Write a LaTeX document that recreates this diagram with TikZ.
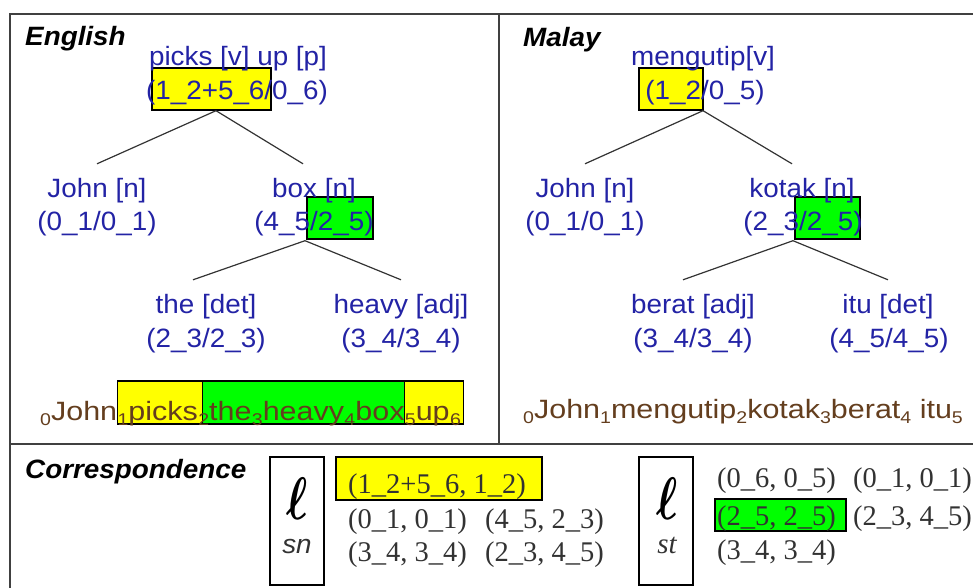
\documentclass[tikz,border=0pt]{standalone}
\usepackage{graphicx}
\usepackage{fontspec}
\setmainfont[FakeStretch=1.05]{Liberation Sans}
\newfontfamily\sentfont[FakeStretch=1.15]{Liberation Sans}
\newfontfamily\serfont{Liberation Serif}
\usetikzlibrary{backgrounds}
\definecolor{treeblue}{RGB}{35,35,165}
\definecolor{sentbrown}{RGB}{100,62,30}
\definecolor{corrgray}{RGB}{50,50,50}
\definecolor{hlyellow}{RGB}{255,255,0}
\definecolor{hlgreen}{RGB}{0,255,0}
\newcommand\sbs[1]{\raisebox{-5pt}{\fontsize{17}{17}\selectfont #1}}
\tikzset{
  frame/.style={draw=black!75, line width=1.8pt},
  conn/.style={draw=black!80, line width=1.2pt},
  hl/.style={draw=black, line width=1.1pt},
  ttl/.style={anchor=base west, inner sep=0pt, text=black, font=\fontsize{26.5}{30}\selectfont\bfseries\itshape},
  lbl/.style={anchor=base, inner xsep=0pt, inner ysep=14pt, text height=19pt, text depth=6pt, text=treeblue, font=\fontsize{26.5}{30}\selectfont},
  spn/.style={lbl, inner ysep=4.5pt},
  snt/.style={anchor=base west, inner sep=0pt, text=sentbrown, font=\sentfont\fontsize{26.5}{30}\selectfont},
  corr/.style={anchor=base west, inner sep=0pt, text=corrgray, font=\serfont\fontsize{28.5}{30}\selectfont},
  ellbox/.style={draw=black, line width=1.2pt},
}
\begin{document}
\begin{tikzpicture}[x=1pt,y=-1pt]
\useasboundingbox (0,0) rectangle (973,588);
\clip (0,0) rectangle (973,588);
% frame
\draw[frame] (10,14) rectangle (1000,620);
\draw[frame] (499,14) -- (499,444);
\draw[frame] (10,444) -- (1000,444);
% titles
\node[ttl] (tEn) at (25,46) {English};
\node[ttl] (tMs) at (523,47) {Malay};
\node[ttl] (tCo) at (25,478) {Correspondence};
% English tree
\node[lbl] (el1) at (238,66) {picks [v] up [p]};
\node[spn] (es) at (237,100) {(1\_2+5\_6/0\_6)};
\node[lbl] (ej1) at (97,197) {John [n]};
\node[spn] (ej2) at (97,230) {(0\_1/0\_1)};
\node[lbl] (eb1) at (314,197) {box [n]};
\node[spn] (eb2) at (314,230) {(4\_5/2\_5)};
\node[lbl] (et1) at (206,313) {the [det]};
\node[spn] (et2) at (206,347) {(2\_3/2\_3)};
\node[lbl] (eh1) at (401,313) {heavy [adj]};
\node[spn] (eh2) at (401,347) {(3\_4/3\_4)};
\draw[conn] ([xshift=-21pt]es.south) -- (ej1.north);
\draw[conn] ([xshift=-21pt]es.south) -- ([xshift=-11pt]eb1.north);
\draw[conn] ([xshift=-9pt]eb2.south) -- ([xshift=-13pt]et1.north);
\draw[conn] ([xshift=-9pt]eb2.south) -- (eh1.north);
% Malay tree
\node[lbl] (ml1) at (703,66) {mengutip[v]};
\node[spn] (ms) at (705,100) {(1\_2/0\_5)};
\node[lbl] (mj1) at (585,197) {John [n]};
\node[spn] (mj2) at (585,230) {(0\_1/0\_1)};
\node[lbl] (mk1) at (802,197) {kotak [n]};
\node[spn] (mk2) at (803,230) {(2\_3/2\_5)};
\node[lbl] (mb1) at (693,313) {berat [adj]};
\node[spn] (mb2) at (693,347) {(3\_4/3\_4)};
\node[lbl] (mi1) at (888,313) {itu [det]};
\node[spn] (mi2) at (889,347) {(4\_5/4\_5)};
\draw[conn] ([xshift=-2pt]ms.south) -- (mj1.north);
\draw[conn] ([xshift=-2pt]ms.south) -- ([xshift=-10pt]mk1.north);
\draw[conn] ([xshift=-10pt]mk2.south) -- ([xshift=-10pt]mb1.north);
\draw[conn] ([xshift=-10pt]mk2.south) -- (mi1.north);
% sentences
\node[snt] (s0) at (40,420) {\sbs{0}John};
\node[snt] (s1) at (s0.base east) {\sbs{1}picks};
\node[snt] (s2) at (s1.base east) {\sbs{2}the};
\node[snt] (s3) at (s2.base east) {\sbs{3}heavy};
\node[snt] (s4) at (s3.base east) {\sbs{4}box};
\node[snt] (s5) at (s4.base east) {\sbs{5}up};
\node[snt] (s6) at (s5.base east) {\sbs{6}};
\coordinate (sTop) at (0,381);
\coordinate (sBot) at (0,424);
\coordinate (s2m) at ([xshift=4pt]s2.base west);
\coordinate (s6e) at ([xshift=2pt]s6.base east);
\node[snt] (msent) at (523,418) {\sbs{0}John\sbs{1}mengutip\sbs{2}kotak\sbs{3}berat\sbs{4} itu\sbs{5}};
% correspondence
\draw[ellbox] (270,457) rectangle (324,585);
\draw[ellbox] (639,457) rectangle (693,585);
\node[inner sep=0pt] (ellsn) at (297,499) {\scalebox{4.5}[6.0]{\boldmath$\ell$}};
\node[anchor=base, inner sep=0pt, font=\fontsize{26.5}{30}\selectfont\itshape, text=corrgray] (sn) at (297,553) {sn};
\node[inner sep=0pt] (ellst) at (667,499) {\scalebox{4.5}[6.0]{\boldmath$\ell$}};
\node[anchor=base, inner sep=0pt, font=\serfont\fontsize{29}{30}\selectfont\itshape, text=corrgray] (st) at (667,553) {st};
\node[corr] (c1) at (348,493) {(1\_2+5\_6, 1\_2)};
\node[corr] (c2) at (348,528) {(0\_1, 0\_1)};
\node[corr] (c3) at (485,528) {(4\_5, 2\_3)};
\node[corr] (c4) at (348,561) {(3\_4, 3\_4)};
\node[corr] (c5) at (485,561) {(2\_3, 4\_5)};
\node[corr] (d1) at (717,487) {(0\_6, 0\_5)};
\node[corr] (d2) at (853,487) {(0\_1, 0\_1)};
\node[corr] (d3) at (717,525) {(2\_5, 2\_5)};
\node[corr] (d4) at (853,525) {(2\_3, 4\_5)};
\node[corr] (d5) at (717,559) {(3\_4, 3\_4)};
% highlight boxes
\begin{scope}[on background layer]
\draw[hl, fill=hlyellow] (152,68) rectangle (271,110);
\draw[hl, fill=hlgreen] (307,197) rectangle (373,239);
\draw[hl, fill=hlyellow] (639,68) rectangle (703,110);
\draw[hl, fill=hlgreen] (795,197) rectangle (860,239);
\draw[hl, fill=hlyellow] (s1.base west |- sTop) rectangle (s2m |- sBot);
\draw[hl, fill=hlgreen] (s2m |- sTop) rectangle (s5.base west |- sBot);
\draw[hl, fill=hlyellow] (s5.base west |- sTop) rectangle (s6e |- sBot);
\draw[hl, fill=hlyellow] (336,457) rectangle (542,500);
\draw[hl, fill=hlgreen] (715,499) rectangle (846,531);
\end{scope}
\end{tikzpicture}
\end{document}
